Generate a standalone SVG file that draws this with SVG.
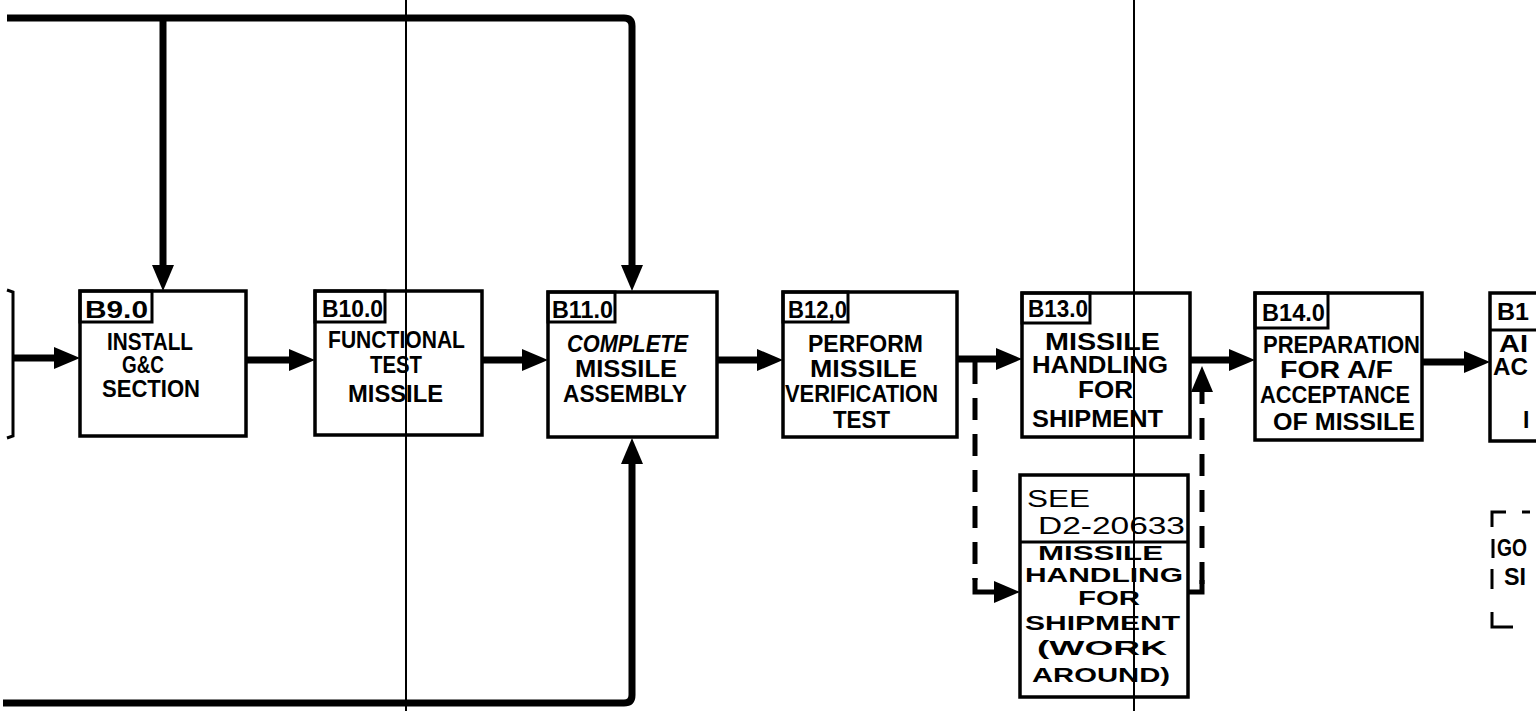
<svg xmlns="http://www.w3.org/2000/svg" width="1536" height="711" viewBox="0 0 1536 711">
<style>
.box{fill:#fff;stroke:#000;stroke-width:3.5}
.lbl{fill:none;stroke:#000;stroke-width:3}
.t{font-family:"Liberation Sans",Arial,sans-serif;font-weight:bold;font-size:23px;fill:#000}
.tw{font-family:"Liberation Sans",Arial,sans-serif;font-weight:bold;font-size:20px;fill:#000}
.tn{font-family:"Liberation Sans",Arial,sans-serif;font-weight:normal;font-size:23px;fill:#000}
.conn{fill:none;stroke:#000;stroke-width:7;stroke-linejoin:round}
.dash{fill:none;stroke:#000;stroke-width:5;stroke-dasharray:22 14}
.thin{fill:none;stroke:#000;stroke-width:3}
.scan{fill:none;stroke:#000;stroke-width:2}
</style>
<defs>
<marker id="ah" markerUnits="userSpaceOnUse" markerWidth="28" markerHeight="24" refX="10" refY="12" orient="auto">
<path d="M0,1 L26,12 L0,23 Z" fill="#000"/>
</marker>
</defs>
<rect x="0" y="0" width="1536" height="711" fill="#fff"/>

<g id="prev-node">
<path class="thin" d="M7,290 L13,292 V436 L7,438"/>
</g>

<g id="B9">
<rect class="box" x="80" y="291" width="166" height="145"/>
<rect class="lbl" x="80" y="291" width="72" height="31"/>
<text class="t" x="85" y="318" textLength="63" lengthAdjust="spacingAndGlyphs">B9.0</text>
<text class="t" x="107" y="350" textLength="86" lengthAdjust="spacingAndGlyphs">INSTALL</text>
<text class="t" x="122" y="373" textLength="42" lengthAdjust="spacingAndGlyphs">G&amp;C</text>
<text class="t" x="102" y="397" textLength="98" lengthAdjust="spacingAndGlyphs">SECTION</text>
</g>

<g id="B10">
<rect class="box" x="315" y="291" width="167" height="144"/>
<rect class="lbl" x="315" y="291" width="70" height="31"/>
<text class="t" x="322" y="317" textLength="61" lengthAdjust="spacingAndGlyphs">B10.0</text>
<text class="t" x="328" y="348" textLength="137" lengthAdjust="spacingAndGlyphs">FUNCTIONAL</text>
<text class="t" x="370" y="373" textLength="52" lengthAdjust="spacingAndGlyphs">TEST</text>
<text class="t" x="348" y="402" textLength="95" lengthAdjust="spacingAndGlyphs">MISSILE</text>
</g>

<g id="B11">
<rect class="box" x="548" y="292" width="169" height="145"/>
<rect class="lbl" x="548" y="292" width="67" height="30"/>
<text class="t" x="552" y="318" textLength="61" lengthAdjust="spacingAndGlyphs">B11.0</text>
<text class="t" x="567" y="352" textLength="121" lengthAdjust="spacingAndGlyphs" font-style="italic">COMPLETE</text>
<text class="t" x="575" y="377" textLength="102" lengthAdjust="spacingAndGlyphs">MISSILE</text>
<text class="t" x="563" y="402" textLength="124" lengthAdjust="spacingAndGlyphs">ASSEMBLY</text>
</g>

<g id="B12">
<rect class="box" x="783" y="292" width="174" height="145"/>
<rect class="lbl" x="783" y="292" width="65" height="30"/>
<text class="t" x="788" y="318" textLength="59" lengthAdjust="spacingAndGlyphs">B12,0</text>
<text class="t" x="808" y="352" textLength="115" lengthAdjust="spacingAndGlyphs">PERFORM</text>
<text class="t" x="810" y="377" textLength="107" lengthAdjust="spacingAndGlyphs">MISSILE</text>
<text class="t" x="785" y="402" textLength="153" lengthAdjust="spacingAndGlyphs">VERIFICATION</text>
<text class="t" x="833" y="428" textLength="57" lengthAdjust="spacingAndGlyphs">TEST</text>
</g>

<g id="B13">
<rect class="box" x="1022" y="293" width="168" height="144"/>
<rect class="lbl" x="1022" y="293" width="68" height="30"/>
<text class="t" x="1028" y="317" textLength="60" lengthAdjust="spacingAndGlyphs">B13.0</text>
<text class="t" x="1045" y="350" textLength="115" lengthAdjust="spacingAndGlyphs">MISSILE</text>
<text class="t" x="1032" y="373" textLength="136" lengthAdjust="spacingAndGlyphs">HANDLING</text>
<text class="t" x="1078" y="398" textLength="55" lengthAdjust="spacingAndGlyphs">FOR</text>
<text class="t" x="1032" y="427" textLength="131" lengthAdjust="spacingAndGlyphs">SHIPMENT</text>
</g>

<g id="B14">
<rect class="box" x="1255" y="293" width="167" height="147"/>
<rect class="lbl" x="1255" y="293" width="73" height="35"/>
<text class="t" x="1262" y="321" textLength="63" lengthAdjust="spacingAndGlyphs">B14.0</text>
<text class="t" x="1263" y="353" textLength="157" lengthAdjust="spacingAndGlyphs">PREPARATION</text>
<text class="t" x="1280" y="378" textLength="113" lengthAdjust="spacingAndGlyphs">FOR A/F</text>
<text class="t" x="1260" y="403" textLength="150" lengthAdjust="spacingAndGlyphs">ACCEPTANCE</text>
<text class="t" x="1273" y="430" textLength="142" lengthAdjust="spacingAndGlyphs">OF MISSILE</text>
</g>

<g id="B15">
<path class="box" d="M1540,293 H1490 V441 H1540"/>
<path class="lbl" d="M1540,330 H1490"/>
<text class="t" x="1497" y="320" textLength="32" lengthAdjust="spacingAndGlyphs">B1</text>
<text class="t" x="1499" y="352" textLength="29" lengthAdjust="spacingAndGlyphs">AI</text>
<text class="t" x="1493" y="375" textLength="35" lengthAdjust="spacingAndGlyphs">AC</text>
<text class="t" x="1523" y="428">I</text>
</g>

<g id="B13-workaround">
<rect class="box" x="1020" y="475" width="168" height="222"/>
<path class="lbl" d="M1020,542 H1188"/>
<text class="tn" x="1027" y="507" textLength="63" lengthAdjust="spacingAndGlyphs">SEE</text>
<text class="tn" x="1038" y="534" textLength="147" lengthAdjust="spacingAndGlyphs">D2-20633</text>
<text class="tw" x="1038" y="560" textLength="125" lengthAdjust="spacingAndGlyphs">MISSILE</text>
<text class="tw" x="1025" y="582" textLength="158" lengthAdjust="spacingAndGlyphs">HANDLING</text>
<text class="tw" x="1078" y="605" textLength="62" lengthAdjust="spacingAndGlyphs">FOR</text>
<text class="tw" x="1025" y="630" textLength="155" lengthAdjust="spacingAndGlyphs">SHIPMENT</text>
<text class="tw" x="1037" y="655" textLength="130" lengthAdjust="spacingAndGlyphs">(WORK</text>
<text class="tw" x="1032" y="682" textLength="138" lengthAdjust="spacingAndGlyphs">AROUND)</text>
</g>

<g id="note-fragment">
<path class="thin" d="M1492,527 V512 H1506"/>
<path class="thin" d="M1522,512 H1530"/>
<path class="thin" d="M1493,539 V558"/>
<text class="t" x="1497" y="556" font-size="19" textLength="30" lengthAdjust="spacingAndGlyphs">GO</text>
<path class="thin" d="M1492,569 V589"/>
<text class="t" x="1504" y="585" font-size="19" textLength="22" lengthAdjust="spacingAndGlyphs">SI</text>
<path class="thin" d="M1492,612 V627 H1513"/>
</g>

<g id="connectors">
<path class="conn" d="M7,18 H624 Q632,18 632,26 V275" marker-end="url(#ah)"/>
<path class="conn" d="M163,18 V275" marker-end="url(#ah)"/>
<path class="conn" d="M3,703 H624 Q632,703 632,695 V454" marker-end="url(#ah)"/>
<path class="conn" d="M14,358 H64" marker-end="url(#ah)"/>
<path class="conn" d="M246,360 H299" marker-end="url(#ah)"/>
<path class="conn" d="M482,360 H532" marker-end="url(#ah)"/>
<path class="conn" d="M717,360 H767" marker-end="url(#ah)"/>
<path class="conn" d="M957,359 H1006" marker-end="url(#ah)"/>
<path class="conn" d="M1190,360 H1239" marker-end="url(#ah)"/>
<path class="conn" d="M1422,362 H1474" marker-end="url(#ah)"/>
<path class="dash" d="M975,362 V580"/>
<path class="dash" style="stroke-dasharray:none" d="M975,578 V592 H1004" marker-end="url(#ah)"/>
<path class="dash" style="stroke-dasharray:none" d="M1188,592 H1202 V580"/>
<path class="dash" d="M1202,584 V382" marker-end="url(#ah)"/>
</g>

<g id="scanlines">
<path class="scan" d="M406,0 V711"/>
<path class="scan" d="M1134,0 V711"/>
</g>
</svg>
